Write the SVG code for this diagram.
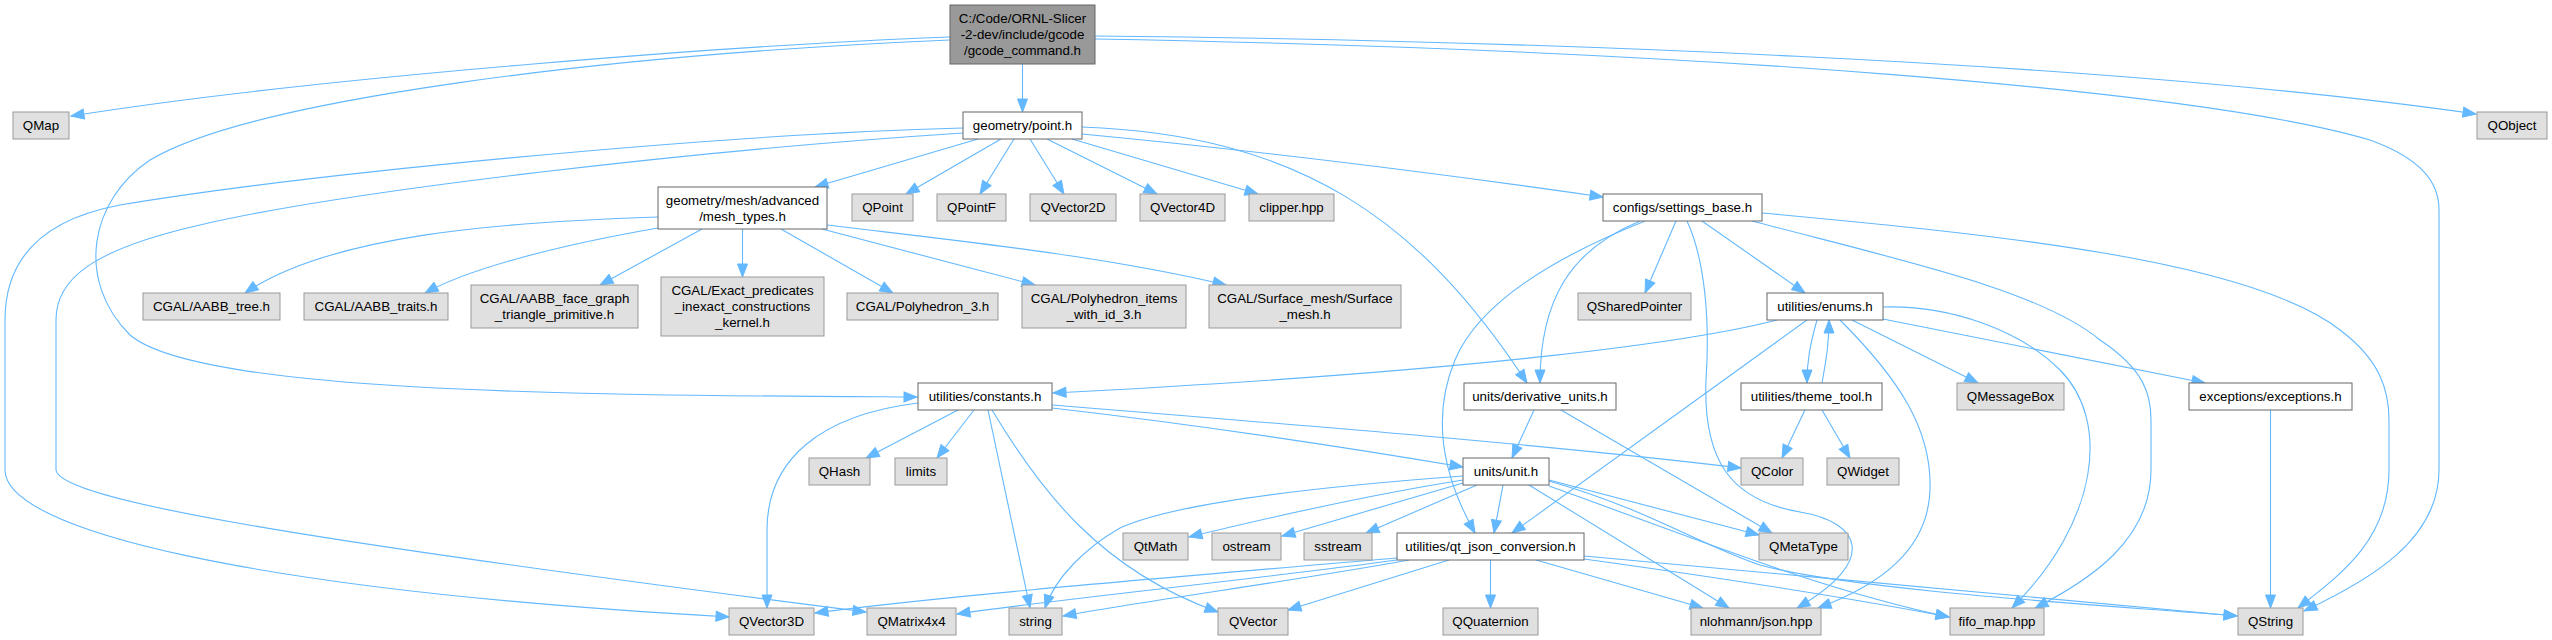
<svg xmlns="http://www.w3.org/2000/svg" width="2552" height="640" viewBox="0 0 2552 640">
<style>
.n rect{stroke-width:1}
.w rect{fill:#ffffff;stroke:#666666}
.g rect{fill:#e0e0e0;stroke:#999999}
.m rect{fill:#999999;stroke:#666666}
text{font-family:"Liberation Sans",Arial,Helvetica,sans-serif;font-size:13.33px;fill:#000000;text-anchor:middle}
.e path{fill:none;stroke:#63b8ff;stroke-width:1.1;marker-end:url(#ah)}
</style>
<defs>
<marker id="ah" markerUnits="userSpaceOnUse" markerWidth="14" markerHeight="11" refX="13" refY="5" orient="auto" overflow="visible">
<path d="M0,0 L13,5 L0,10 z" fill="#63b8ff" stroke="#63b8ff" stroke-width="1"/>
</marker>
</defs>
<rect x="0" y="0" width="2552" height="640" fill="#ffffff"/>
<g id="edges" class="e">
<path d="M950,37 C760,44 330,75 71,116"/>
<path d="M950,40 C600,55 250,100 150,160 C90,200 75,280 130,335 C200,395 600,395 917,397"/>
<path d="M1022.5,64 L1022.5,112"/>
<path d="M1095,36 C1500,40 2100,60 2476,114"/>
<path d="M1095,39 C1700,50 2200,90 2370,140 C2425,160 2439,185 2439,210 L2439,470 C2439,540 2370,580 2304,611"/>
<path d="M978,139 L815,187"/>
<path d="M1001,139 L906,194"/>
<path d="M1014,139 L980,194"/>
<path d="M1030,139 L1064,194"/>
<path d="M1047,139 L1157,194"/>
<path d="M1072,139 L1258,194"/>
<path d="M1082,134 C1250,150 1450,175 1603,197"/>
<path d="M1082,127 C1300,135 1420,220 1527,383"/>
<path d="M963,128 C700,135 300,175 120,205 C40,220 5,260 5,320 L5,470 C5,530 250,590 729,617"/>
<path d="M963,133 C700,150 350,190 200,225 C90,250 56,280 56,320 L56,470 C60,500 300,540 866,612"/>
<path d="M658,217 C500,222 330,235 245,293"/>
<path d="M658,228 C560,245 470,268 425,293"/>
<path d="M702,229 L600,285"/>
<path d="M742.5,229 L742.5,277"/>
<path d="M781,229 L893,293"/>
<path d="M822,229 L1035,285"/>
<path d="M827,225 C950,240 1100,255 1226,285"/>
<path d="M1676,221 L1645,293"/>
<path d="M1702,221 L1805,293"/>
<path d="M1640,221 C1570,250 1540,300 1540,383"/>
<path d="M1645,221 C1560,255 1480,300 1455,360 C1430,420 1445,480 1475,533"/>
<path d="M1687,221 C1705,260 1710,320 1706,380 C1703,460 1730,500 1800,512 C1860,522 1880,560 1797,608"/>
<path d="M1752,221 C1900,260 2040,290 2100,340 C2145,370 2151,395 2151,420 L2151,470 C2151,540 2090,580 2035,608"/>
<path d="M1762,213 C2000,235 2250,260 2340,330 C2380,360 2389,390 2389,420 L2389,470 C2389,540 2340,575 2298,608"/>
<path d="M1777,320 C1700,340 1500,370 1053,393"/>
<path d="M1807,320 L1512,533"/>
<path d="M1817,320 C1810,345 1807,360 1807,383"/>
<path d="M1822,383 C1826,360 1829,345 1829,320"/>
<path d="M1840,320 C1900,380 1932,430 1930,490 C1928,550 1880,585 1818,608"/>
<path d="M1852,320 L1978,383"/>
<path d="M1883,319 L2205,383"/>
<path d="M1883,307 C1950,305 2020,330 2060,370 C2110,420 2100,520 2012,608"/>
<path d="M1805,410 L1782,458"/>
<path d="M1822,410 L1850,458"/>
<path d="M918,403 C820,415 767,460 767,530 L767,608"/>
<path d="M958,410 L866,458"/>
<path d="M974,410 L937,458"/>
<path d="M988,410 L1030,608"/>
<path d="M992,410 C1040,490 1100,570 1218,612"/>
<path d="M1052,405 C1300,425 1550,445 1741,468"/>
<path d="M1052,408 C1200,425 1350,448 1463,467"/>
<path d="M1534,410 L1512,458"/>
<path d="M1561,410 L1772,533"/>
<path d="M1463,480 C1400,490 1300,510 1189,537"/>
<path d="M1463,483 L1282,536"/>
<path d="M1477,485 L1366,533"/>
<path d="M1463,476 C1300,488 1170,505 1120,528 C1085,548 1055,578 1045,608"/>
<path d="M1503,485 L1494,533"/>
<path d="M1549,480 L1759,535"/>
<path d="M1529,485 L1729,608"/>
<path d="M1549,486 C1700,540 1820,590 1949,617"/>
<path d="M1549,481 C1650,510 1700,545 1760,565 C1850,590 2100,605 2237,616"/>
<path d="M1397,558 C1200,575 950,595 815,613"/>
<path d="M1397,560 C1250,580 1050,600 957,614"/>
<path d="M1409,560 C1300,580 1150,600 1063,616"/>
<path d="M1449,560 L1288,610"/>
<path d="M1490.5,560 L1490.5,608"/>
<path d="M1536,560 L1703,608"/>
<path d="M1584,559 C1700,575 1850,598 1949,617"/>
<path d="M1584,556 C1800,575 2050,600 2237,616"/>
<path d="M2270.5,410 L2270.5,608"/>
</g>
<g id="n1" class="n m"><rect x="950" y="5" width="145" height="59"/><text x="1022.5" y="23">C:/Code/ORNL-Slicer</text><text x="1022.5" y="39">-2-dev/include/gcode</text><text x="1022.5" y="55">/gcode_command.h</text></g>
<g id="n2" class="n g"><rect x="13" y="112" width="56" height="27"/><text x="41" y="130">QMap</text></g>
<g id="n3" class="n w"><rect x="963" y="112" width="119" height="27"/><text x="1022.5" y="130">geometry/point.h</text></g>
<g id="n4" class="n g"><rect x="2477" y="112" width="70" height="27"/><text x="2512" y="130">QObject</text></g>
<g id="n5" class="n w"><rect x="658" y="187" width="169" height="42"/><text x="742.5" y="204.5">geometry/mesh/advanced</text><text x="742.5" y="220.5">/mesh_types.h</text></g>
<g id="n6" class="n g"><rect x="852" y="194" width="61" height="27"/><text x="882.5" y="212">QPoint</text></g>
<g id="n7" class="n g"><rect x="937" y="194" width="69" height="27"/><text x="971.5" y="212">QPointF</text></g>
<g id="n8" class="n g"><rect x="1030" y="194" width="86" height="27"/><text x="1073" y="212">QVector2D</text></g>
<g id="n9" class="n g"><rect x="1140" y="194" width="85" height="27"/><text x="1182.5" y="212">QVector4D</text></g>
<g id="n10" class="n g"><rect x="1249" y="194" width="85" height="27"/><text x="1291.5" y="212">clipper.hpp</text></g>
<g id="n11" class="n w"><rect x="1603" y="194" width="159" height="27"/><text x="1682.5" y="212">configs/settings_base.h</text></g>
<g id="n12" class="n g"><rect x="143" y="293" width="137" height="27"/><text x="211.5" y="311">CGAL/AABB_tree.h</text></g>
<g id="n13" class="n g"><rect x="304" y="293" width="144" height="27"/><text x="376" y="311">CGAL/AABB_traits.h</text></g>
<g id="n14" class="n g"><rect x="471" y="285" width="167" height="43"/><text x="554.5" y="302.5">CGAL/AABB_face_graph</text><text x="554.5" y="318.5">_triangle_primitive.h</text></g>
<g id="n15" class="n g"><rect x="661" y="277" width="163" height="59"/><text x="742.5" y="295">CGAL/Exact_predicates</text><text x="742.5" y="311">_inexact_constructions</text><text x="742.5" y="327">_kernel.h</text></g>
<g id="n16" class="n g"><rect x="847" y="293" width="151" height="27"/><text x="922.5" y="311">CGAL/Polyhedron_3.h</text></g>
<g id="n17" class="n g"><rect x="1022" y="285" width="164" height="43"/><text x="1104" y="302.5">CGAL/Polyhedron_items</text><text x="1104" y="318.5">_with_id_3.h</text></g>
<g id="n18" class="n g"><rect x="1209" y="285" width="192" height="43"/><text x="1305" y="302.5">CGAL/Surface_mesh/Surface</text><text x="1305" y="318.5">_mesh.h</text></g>
<g id="n19" class="n g"><rect x="1578" y="293" width="113" height="27"/><text x="1634.5" y="311">QSharedPointer</text></g>
<g id="n20" class="n w"><rect x="1767" y="293" width="116" height="27"/><text x="1825" y="311">utilities/enums.h</text></g>
<g id="n21" class="n w"><rect x="918" y="383" width="134" height="27"/><text x="985" y="401">utilities/constants.h</text></g>
<g id="n22" class="n w"><rect x="1464" y="383" width="152" height="27"/><text x="1540" y="401">units/derivative_units.h</text></g>
<g id="n23" class="n w"><rect x="1741" y="383" width="141" height="27"/><text x="1811.5" y="401">utilities/theme_tool.h</text></g>
<g id="n24" class="n g"><rect x="1957" y="383" width="107" height="27"/><text x="2010.5" y="401">QMessageBox</text></g>
<g id="n25" class="n w"><rect x="2189" y="383" width="163" height="27"/><text x="2270.5" y="401">exceptions/exceptions.h</text></g>
<g id="n26" class="n g"><rect x="809" y="458" width="61" height="27"/><text x="839.5" y="476">QHash</text></g>
<g id="n27" class="n g"><rect x="895" y="458" width="52" height="27"/><text x="921" y="476">limits</text></g>
<g id="n28" class="n w"><rect x="1463" y="458" width="86" height="27"/><text x="1506" y="476">units/unit.h</text></g>
<g id="n29" class="n g"><rect x="1741" y="458" width="62" height="27"/><text x="1772" y="476">QColor</text></g>
<g id="n30" class="n g"><rect x="1827" y="458" width="72" height="27"/><text x="1863" y="476">QWidget</text></g>
<g id="n31" class="n g"><rect x="1123" y="533" width="65" height="27"/><text x="1155.5" y="551">QtMath</text></g>
<g id="n32" class="n g"><rect x="1212" y="533" width="69" height="27"/><text x="1246.5" y="551">ostream</text></g>
<g id="n33" class="n g"><rect x="1304" y="533" width="68" height="27"/><text x="1338" y="551">sstream</text></g>
<g id="n34" class="n w"><rect x="1397" y="533" width="187" height="27"/><text x="1490.5" y="551">utilities/qt_json_conversion.h</text></g>
<g id="n35" class="n g"><rect x="1759" y="533" width="89" height="27"/><text x="1803.5" y="551">QMetaType</text></g>
<g id="n36" class="n g"><rect x="729" y="608" width="85" height="27"/><text x="771.5" y="626">QVector3D</text></g>
<g id="n37" class="n g"><rect x="867" y="608" width="89" height="27"/><text x="911.5" y="626">QMatrix4x4</text></g>
<g id="n38" class="n g"><rect x="1009" y="608" width="53" height="27"/><text x="1035.5" y="626">string</text></g>
<g id="n39" class="n g"><rect x="1218" y="608" width="70" height="27"/><text x="1253" y="626">QVector</text></g>
<g id="n40" class="n g"><rect x="1443" y="608" width="95" height="27"/><text x="1490.5" y="626">QQuaternion</text></g>
<g id="n41" class="n g"><rect x="1691" y="608" width="130" height="27"/><text x="1756" y="626">nlohmann/json.hpp</text></g>
<g id="n42" class="n g"><rect x="1950" y="608" width="94" height="27"/><text x="1997" y="626">fifo_map.hpp</text></g>
<g id="n43" class="n g"><rect x="2238" y="608" width="65" height="27"/><text x="2270.5" y="626">QString</text></g>
</svg>
